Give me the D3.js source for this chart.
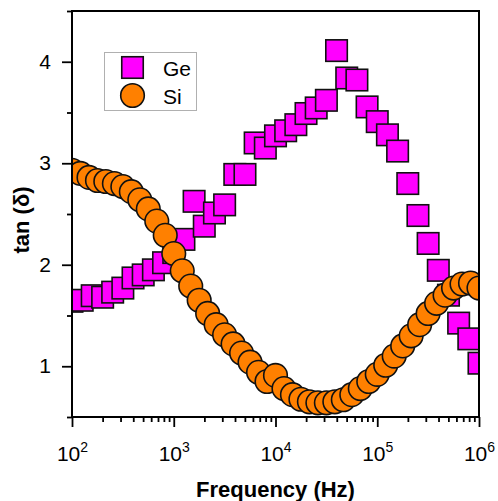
<!DOCTYPE html>
<html>
<head>
<meta charset="utf-8">
<script src="https://cdn.jsdelivr.net/npm/d3@7"></script>
<style>
  body { margin: 0; background: #fff; }
  svg { display: block; font-family: "Liberation Sans", Arial, sans-serif; }
</style>
</head>
<body>
<svg id="chart" width="498" height="501"></svg>
<script>
// Loss tangent vs frequency for the Ge and Si samples
const geFreq = [100, 126, 158, 200, 251, 316, 398, 501, 631, 794,
  1000, 1259, 1585, 1995, 2512, 3162, 3981, 5012, 6310, 7943,
  10000, 12589, 15849, 19953, 25119, 31623, 39811, 50119, 63096, 79433,
  100000, 125893, 158489, 199526, 251189, 316228, 398107, 501187, 630957, 794328,
  1000000];
const geTan = [1.64, 1.65, 1.695, 1.68, 1.73, 1.77, 1.87, 1.90, 1.95, 2.02,
  2.12, 2.25, 2.625, 2.38, 2.51, 2.59, 2.89, 2.89, 3.20, 3.15,
  3.27, 3.32, 3.38, 3.49, 3.545, 3.62, 4.11, 3.84, 3.82, 3.555,
  3.41, 3.28, 3.12, 2.80, 2.485, 2.21, 1.945, 1.70, 1.425, 1.27,
  1.03];

const siFreq = [100, 121, 147, 178, 215, 261, 316, 383, 464, 562, 681, 825,
  1000, 1212, 1468, 1778, 2154, 2610, 3162, 3831, 4642, 5623, 6813, 8254,
  10000, 12115, 14678, 17783, 21544, 26102, 31623, 38312, 46416, 56234, 68129, 82540,
  100000, 121153, 146780, 177828, 215443, 261016, 316228, 383119, 464159, 562341, 681292, 825404,
  1000000];
const siTan = [2.93, 2.90, 2.86, 2.83, 2.82, 2.80, 2.77, 2.72, 2.64, 2.55, 2.43, 2.29,
  2.11, 1.94, 1.79, 1.65, 1.52, 1.41, 1.31, 1.22, 1.13, 1.04, 0.94, 0.85,
  0.91, 0.78, 0.72, 0.675, 0.65, 0.64, 0.64, 0.65, 0.67, 0.72, 0.78, 0.85,
  0.92, 1.01, 1.10, 1.20, 1.30, 1.41, 1.52, 1.62, 1.70, 1.77, 1.81, 1.82,
  1.77];

const xMajorExps = [2, 3, 4, 5, 6];
const yMajorTicks = [1, 2, 3, 4];
const yMinorTicks = [0.5, 1.5, 2.5, 3.5, 4.5];
const seriesNames = ["Ge", "Si"];
const seriesColors = ["#ff00ff", "#ff8000"];
const xTitle = "Frequency (Hz)";
const yTitle = "tan (δ)";

const svg = d3.select("#chart");
const plot = { left: 72, right: 479, top: 11, bottom: 417 };

const x = d3.scaleLog().domain([1e2, 1e6]).range([plot.left, plot.right]);
const y = d3.scaleLinear().domain([0.5, 4.5]).range([plot.bottom, plot.top]);

svg.append("defs").append("clipPath").attr("id", "plotClip")
  .append("rect")
  .attr("x", plot.left).attr("y", plot.top)
  .attr("width", plot.right - plot.left).attr("height", plot.bottom - plot.top);

// markers
const marks = svg.append("g").attr("clip-path", "url(#plotClip)");
const sq = 21.5;
marks.append("g").selectAll("rect")
  .data(geFreq.map((f, i) => [f, geTan[i]]))
  .join("rect")
  .attr("x", d => x(d[0]) - sq / 2)
  .attr("y", d => y(d[1]) - sq / 2)
  .attr("width", sq).attr("height", sq)
  .attr("fill", seriesColors[0])
  .attr("stroke", "#111").attr("stroke-width", 1.6);

marks.append("g").selectAll("circle")
  .data(siFreq.map((f, i) => [f, siTan[i]]))
  .join("circle")
  .attr("cx", d => x(d[0]))
  .attr("cy", d => y(d[1]))
  .attr("r", 11.8)
  .attr("fill", seriesColors[1])
  .attr("stroke", "#111").attr("stroke-width", 1.6);

// axes
const majorX = xMajorExps.map(e => Math.pow(10, e));
const minorX = [];
xMajorExps.slice(0, -1).forEach(e => {
  for (let k = 2; k <= 9; k++) minorX.push(k * Math.pow(10, e));
});

const styleAxis = g => {
  g.select(".domain").remove();
  g.selectAll(".tick line").attr("stroke", "#000").attr("stroke-width", 1.8);
};

svg.append("g")
  .attr("transform", `translate(0,${plot.bottom})`)
  .call(d3.axisBottom(x).tickValues(minorX).tickSize(5).tickFormat(""))
  .call(styleAxis);

const xAxis = svg.append("g")
  .attr("transform", `translate(0,${plot.bottom})`)
  .call(d3.axisBottom(x).tickValues(majorX).tickSize(10).tickFormat(""))
  .call(styleAxis);
xAxis.selectAll(".tick text").each(function (d) {
  const t = d3.select(this)
    .attr("y", 44).attr("dy", null)
    .attr("fill", "#000")
    .attr("font-size", 21)
    .attr("font-family", "'Liberation Sans', Arial, sans-serif")
    .text("10");
  t.append("tspan")
    .attr("dy", -9).attr("font-size", 14)
    .text(Math.round(Math.log10(d)));
});

svg.append("g")
  .attr("transform", `translate(${plot.left},0)`)
  .call(d3.axisLeft(y).tickValues(yMinorTicks).tickSize(5).tickFormat(""))
  .call(styleAxis);

svg.append("g")
  .attr("transform", `translate(${plot.left},0)`)
  .call(d3.axisLeft(y).tickValues(yMajorTicks).tickSize(10).tickFormat(d3.format("d")))
  .call(styleAxis)
  .call(g => g.selectAll(".tick text")
    .attr("x", -21)
    .attr("fill", "#000")
    .attr("font-size", 21)
    .attr("font-family", "'Liberation Sans', Arial, sans-serif"));

// frame
svg.append("rect")
  .attr("x", plot.left).attr("y", plot.top)
  .attr("width", plot.right - plot.left).attr("height", plot.bottom - plot.top)
  .attr("fill", "none").attr("stroke", "#000").attr("stroke-width", 2);

// axis titles
svg.append("text")
  .attr("x", (plot.left + plot.right) / 2).attr("y", 497)
  .attr("text-anchor", "middle")
  .attr("font-size", 22).attr("font-weight", "bold")
  .text(xTitle);

svg.append("text")
  .attr("transform", `translate(29,${(plot.top + plot.bottom) / 2 + 6}) rotate(-90)`)
  .attr("text-anchor", "middle")
  .attr("font-size", 22).attr("font-weight", "bold")
  .text(yTitle);

// legend
const legend = svg.append("g");
legend.append("rect")
  .attr("x", 104.5).attr("y", 52.5).attr("width", 92).attr("height", 58)
  .attr("fill", "#fff").attr("stroke", "#b0b0b0").attr("stroke-width", 1);
legend.append("rect")
  .attr("x", 132.5 - sq / 2).attr("y", 67.5 - sq / 2)
  .attr("width", sq).attr("height", sq)
  .attr("fill", seriesColors[0]).attr("stroke", "#111").attr("stroke-width", 1.6);
legend.append("circle")
  .attr("cx", 132.5).attr("cy", 95.5).attr("r", 11.8)
  .attr("fill", seriesColors[1]).attr("stroke", "#111").attr("stroke-width", 1.6);
legend.selectAll("text.lbl")
  .data(seriesNames)
  .join("text")
  .attr("class", "lbl")
  .attr("x", 163)
  .attr("y", (d, i) => 76 + i * 27.5)
  .attr("font-size", 21)
  .text(d => d);
</script>
</body>
</html>
